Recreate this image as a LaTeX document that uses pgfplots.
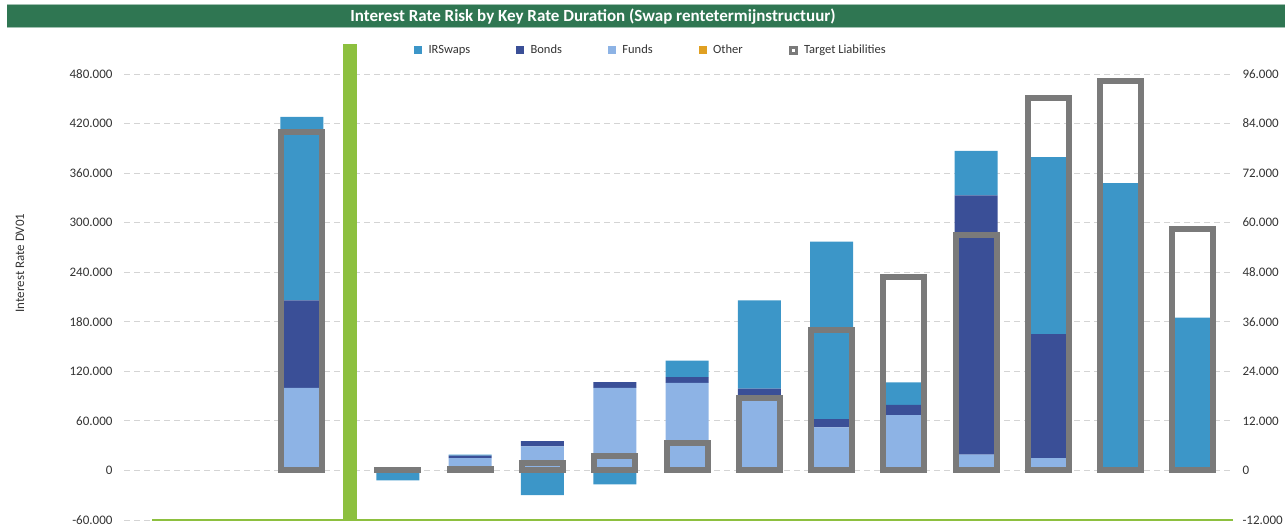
\documentclass[border=0pt]{standalone}
\usepackage{fontspec}
\setmainfont{Carlito}
\usepackage{pgfplots}
\usepackage{pgfplotstable}
\pgfplotsset{compat=1.18}
\definecolor{swapc}{HTML}{3C96C8}
\definecolor{bondc}{HTML}{3A4F97}
\definecolor{fundc}{HTML}{8DB3E5}
\definecolor{otherc}{HTML}{E0A022}
\definecolor{tgray}{HTML}{7A7A7A}
\definecolor{lgreen}{HTML}{8DC03F}
\definecolor{tgreen}{HTML}{2F7652}
\definecolor{gridc}{HTML}{D4D4D4}
\definecolor{txtc}{HTML}{333333}

\pgfplotstableread{
x      funds  bonds  swaps  swapneg target
-1.33  100000 106000 222000 0       82000
0      4000   0      0      -12000  200
1      15000  3000   1000   0       300
2      29000  6500   0      -30000  1760
3      100000 7000   0      -17000  3500
4      106000 7000   20000  0       6600
5      90000  9000   107000 0       17600
6      52000  10000  215000 0       34000
7      67000  12500  27000  0       46900
8      19000  314000 54000  0       57000
9      15000  150000 214500 0       90300
10     0      0      348000 0       94300
11     0      0      185000 0       58500
}\data

\pgfplotstableread{
x     y
-3.40 -60000
11.55 -60000
}\greenbase

\pgfplotstableread{
x      y
-0.664 -61000
-0.664 516000
}\greensep

\begin{document}
\begin{tikzpicture}
\useasboundingbox (0pt,0pt) rectangle (1285pt,529pt);
\fill[tgreen] (7pt,501pt) rectangle (1285pt,524pt);
\draw[tgreen!45!white, line width=1pt] (7pt,524pt) -- (1285pt,524pt);
\draw[tgreen!45!white, line width=1pt] (7pt,501pt) -- (1285pt,501pt);
\node[white, font=\bfseries\fontsize{17}{19}\selectfont] at (593pt,512.5pt) {Interest Rate Risk by Key Rate Duration (Swap rentetermijnstructuur)};
\node[rotate=90, font=\fontsize{13}{15}\selectfont, text=txtc] at (20pt,266pt) {Interest Rate DV01};

\pgfplotsset{myax/.style={
  scale only axis, width=1108pt, height=446pt,
  at={(124pt,9pt)}, anchor=south west,
  xmin=-3.79, xmax=11.54, xtick=\empty,
  axis line style={draw=none}, major tick length=0pt,
  scaled y ticks=false,
  /pgf/number format/fixed,
  /pgf/number format/1000 sep={.},
  /pgf/number format/assume math mode=true,
  yticklabel style={font=\fontsize{13}{15}\selectfont, text=txtc},
}}

% stacked positive parts
\begin{axis}[myax,
  ymin=-60000, ymax=480000,
  ytick={-60000,0,60000,120000,180000,240000,300000,360000,420000,480000},
  ymajorgrids, grid style={gridc, dash pattern=on 6pt off 4pt, line width=0.8pt},
  yticklabel style={xshift=-8pt},
  ybar stacked, bar width=43pt]
\addplot[fill=fundc, draw=none] table[x=x, y=funds] {\data};
\addplot[fill=bondc, draw=none] table[x=x, y=bonds] {\data};
\addplot[fill=swapc, draw=none] table[x=x, y=swaps] {\data};
\end{axis}

% negative IRSwaps and green separators
\begin{axis}[myax, hide axis, clip=false,
  ymin=-60000, ymax=480000]
\addplot[ybar, bar width=43pt, bar shift=0pt, fill=swapc, draw=none] table[x=x, y=swapneg] {\data};
\addplot[lgreen, line width=2pt, no marks] table[x=x, y=y] {\greenbase};
\addplot[lgreen, line width=14pt, no marks] table[x=x, y=y] {\greensep};
\end{axis}

% target liabilities, right axis
\begin{axis}[myax,
  ymin=-12000, ymax=96000,
  ytick={-12000,0,12000,24000,36000,48000,60000,72000,84000,96000},
  axis y line*=right,
  yticklabel style={xshift=7pt},
  legend columns=5,
  legend style={at={(0.4756,1.0538)}, anchor=center, draw=none, fill=none,
    font=\fontsize{12.5}{14}\selectfont, text=txtc,
    /tikz/every odd column/.append style={column sep=5pt},
    /tikz/every even column/.append style={column sep=44pt}},
  legend cell align=left]
\addlegendimage{legend image code/.code={\fill[swapc] (0pt,-3.5pt) rectangle (7pt,3.5pt);}}
\addlegendentry{IRSwaps}
\addlegendimage{legend image code/.code={\fill[bondc] (0pt,-3.5pt) rectangle (7pt,3.5pt);}}
\addlegendentry{Bonds}
\addlegendimage{legend image code/.code={\fill[fundc] (0pt,-3.5pt) rectangle (7pt,3.5pt);}}
\addlegendentry{Funds}
\addlegendimage{legend image code/.code={\fill[otherc] (0pt,-3.5pt) rectangle (7pt,3.5pt);}}
\addlegendentry{Other}
\addlegendimage{legend image code/.code={\fill[tgray] (0pt,-4pt) rectangle (8pt,4pt); \fill[white] (3pt,-1pt) rectangle (5pt,1pt);}}
\addlegendentry{Target Liabilities}
\addplot[ybar, bar width=41pt, bar shift=0pt, draw=tgray, fill=none, line width=6pt, line join=miter, forget plot]
  table[x=x, y=target] {\data};
\end{axis}
\end{tikzpicture}
\end{document}
